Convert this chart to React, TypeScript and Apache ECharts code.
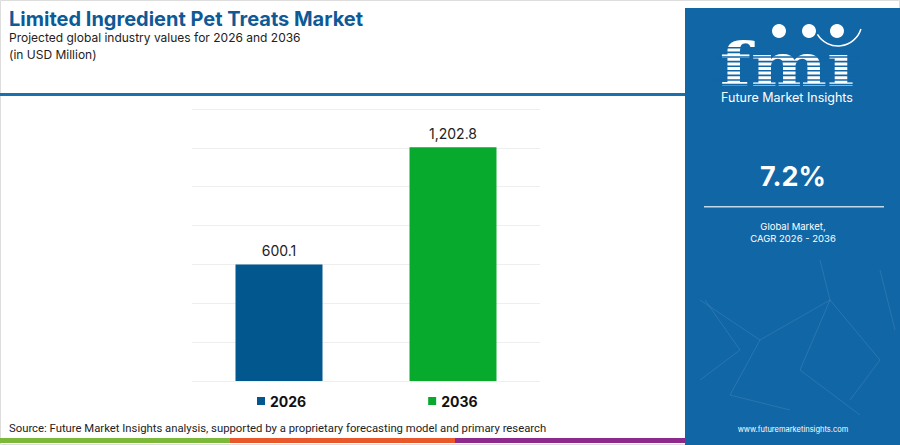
import React, { useEffect, useRef } from "react";
import * as echarts from "echarts";

const categories = ["2026", "2036"];
const values2026 = [600.1, null];
const values2036 = [null, 1202.8];
const valueLabels = ["600.1", "1,202.8"];
const cagrText = "7.2%";

export default function App() {
  const ref = useRef<HTMLDivElement>(null);
  useEffect(() => {
    document.body.style.margin = "0";
    const chart = echarts.init(ref.current!, null, { renderer: "svg" });
    const font = "Inter, 'Open Sans', sans-serif";
    const panelX = 685;
    const panelColor = "#1166a6";
    const netLines = [
      [[700, 300], [760, 340], [730, 395], [790, 410]],
      [[760, 340], [830, 300], [880, 360], [850, 400]],
      [[820, 260], [830, 300], [800, 370], [860, 415]],
      [[700, 380], [740, 350], [705, 300]],
      [[880, 270], [895, 330]],
    ];
    const stripes: number[] = [];
    for (let yy = 47; yy < 86; yy += 4.6) stripes.push(yy);
    chart.setOption({
      animation: false,
      grid: { left: 192, right: 360, top: 109, bottom: 64 },
      xAxis: {
        type: "category",
        data: categories,
        axisLine: { show: false },
        axisTick: { show: false },
        axisLabel: { show: false },
      },
      yAxis: {
        type: "value",
        min: 0,
        max: 1400,
        interval: 200,
        axisLabel: { show: false },
        axisLine: { show: false },
        splitLine: { lineStyle: { color: "#eeeeee", width: 1 } },
      },
      legend: {
        left: 257,
        top: 394,
        padding: 0,
        itemWidth: 8,
        itemHeight: 8,
        itemGap: 122,
        icon: "rect",
        textStyle: { fontFamily: font, fontWeight: "bold", fontSize: 14, color: "#111" },
        data: categories,
      },
      series: [
        {
          name: "2026",
          type: "bar",
          data: values2026,
          barWidth: 87,
          barGap: "-100%",
          itemStyle: { color: "#02588e" },
          label: {
            show: true,
            position: "top",
            distance: 7,
            formatter: () => valueLabels[0],
            fontFamily: font,
            fontSize: 14,
            color: "#222",
          },
        },
        {
          name: "2036",
          type: "bar",
          data: values2036,
          barWidth: 87,
          barGap: "-100%",
          itemStyle: { color: "#08aa2e" },
          label: {
            show: true,
            position: "top",
            distance: 7,
            formatter: () => valueLabels[1],
            fontFamily: font,
            fontSize: 14,
            color: "#222",
          },
        },
      ],
      graphic: [
        { type: "rect", shape: { x: 0.5, y: 0.5, width: 899, height: 444 }, style: { fill: "none", stroke: "#dddddd", lineWidth: 1 }, z: -1 },
        { type: "text", left: 9, top: 9, style: { text: "Limited Ingredient Pet Treats Market", font: `bold 20px ${font}`, fill: "#0e5a96" } },
        { type: "text", left: 9, top: 31, style: { text: "Projected global industry values for 2026 and 2036", font: `12px ${font}`, fill: "#222" } },
        { type: "text", left: 9, top: 48, style: { text: "(in USD Million)", font: `12px ${font}`, fill: "#222" } },
        { type: "rect", shape: { x: 0, y: 93, width: panelX, height: 3 }, style: { fill: "#1a6fad" } },
        { type: "rect", shape: { x: panelX, y: 8, width: 215, height: 437 }, style: { fill: panelColor } },
        ...netLines.map((pts) => ({
          type: "polyline",
          shape: { points: pts },
          style: { stroke: "rgba(255,255,255,0.1)", lineWidth: 1, fill: "none" },
        })),
        {
          type: "text",
          x: 787,
          y: 95,
          scaleX: 1.2,
          z: 10,
          style: { text: "fm\u0131", font: `bold 60px 'DejaVu Serif', serif`, fill: "#ffffff", textAlign: "center", textVerticalAlign: "bottom" },
        },
        ...stripes.map((yy) => ({
          type: "rect",
          z: 11,
          shape: { x: 715, y: yy, width: 145, height: 1.6 },
          style: { fill: panelColor },
        })),
        { type: "circle", z: 12, shape: { cx: 779, cy: 31, r: 7 }, style: { fill: "#ffffff" } },
        { type: "circle", z: 12, shape: { cx: 809, cy: 31, r: 7 }, style: { fill: "#ffffff" } },
        { type: "circle", z: 12, shape: { cx: 837, cy: 31, r: 7 }, style: { fill: "#ffffff" } },
        { type: "arc", z: 12, shape: { cx: 838, cy: 22, r: 24, startAngle: 0.3, endAngle: 2.6 }, style: { stroke: "#ffffff", lineWidth: 1.5, fill: "none" } },
        { type: "text", x: 787, y: 97, style: { text: "Future Market Insights", font: `12.5px ${font}`, fill: "#ffffff", textAlign: "center", textVerticalAlign: "middle" } },
        { type: "text", x: 793, y: 176, style: { text: cagrText, font: `bold 27px ${font}`, fill: "#ffffff", textAlign: "center", textVerticalAlign: "middle" } },
        { type: "rect", shape: { x: 704, y: 206, width: 180, height: 1.5 }, style: { fill: "rgba(255,255,255,0.75)" } },
        { type: "text", x: 793, y: 226, style: { text: "Global Market,", font: `9.5px ${font}`, fill: "#ffffff", textAlign: "center", textVerticalAlign: "middle" } },
        { type: "text", x: 793, y: 238, style: { text: "CAGR 2026 - 2036", font: `9.5px ${font}`, fill: "#ffffff", textAlign: "center", textVerticalAlign: "middle" } },
        { type: "text", x: 793, y: 429, style: { text: "www.futuremarketinsights.com", font: `7.5px ${font}`, fill: "#ffffff", textAlign: "center", textVerticalAlign: "middle" } },
        { type: "text", left: 9, top: 423, style: { text: "Source: Future Market Insights analysis, supported by a proprietary forecasting model and primary research", font: `11.3px Roboto, sans-serif`, fill: "#222" } },
        { type: "rect", shape: { x: 0, y: 438, width: 230, height: 5 }, style: { fill: "#7cb83a" } },
        { type: "rect", shape: { x: 230, y: 438, width: 225, height: 5 }, style: { fill: "#e8582a" } },
        { type: "rect", shape: { x: 455, y: 438, width: 230, height: 5 }, style: { fill: "#8e2a8c" } },
      ],
    });
    return () => chart.dispose();
  }, []);
  return <div ref={ref} style={{ width: 900, height: 445 }} />;
}
